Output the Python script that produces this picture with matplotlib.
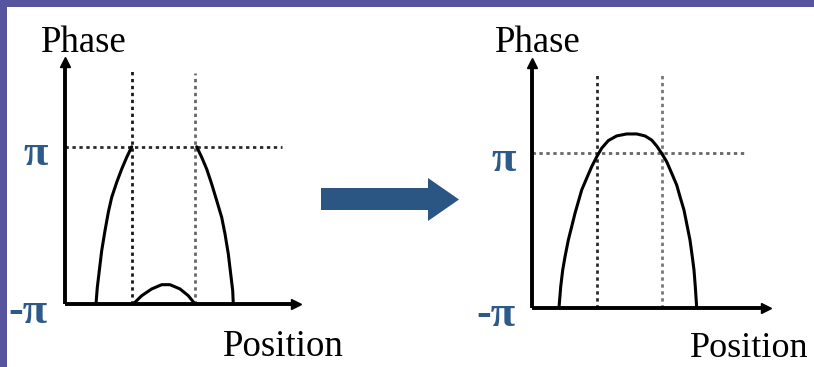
import numpy as np
import matplotlib
matplotlib.use("Agg")
import matplotlib.pyplot as plt
from matplotlib.patches import Rectangle, Polygon

PI = np.pi

# ---------------- data ----------------
# Left panel: wrapped phase, three visible pieces
wrap_rise_pos = [31, 32.3, 34.3, 36.7, 40, 43.3, 46.7, 51.7, 56.7, 61.7, 66.7]
wrap_rise_phase = [-3.14, -2.48, -1.81, -1.01, -0.21, 0.52, 1.12, 1.72, 2.25, 2.72, 3.14]
wrap_bump_pos = [68.3, 76.7, 86.7, 96.7, 105, 115, 123.3, 130]
wrap_bump_phase = [-3.14, -2.81, -2.54, -2.37, -2.37, -2.54, -2.81, -3.14]
wrap_fall_pos = [131.7, 136.7, 141.7, 146.7, 151.7, 156.7, 160, 163.3, 165.7, 167.7, 168.3]
wrap_fall_phase = [3.14, 2.72, 2.25, 1.65, 0.99, 0.32, -0.34, -1.14, -1.94, -2.61, -3.14]
wrap_cross_pos = [67, 130]          # where the phase reaches pi

# Right panel: unwrapped phase
unw_pos = [27, 28.7, 30.7, 33, 36.3, 39.7, 43, 46.3, 49.7, 54.7, 59.7, 64.7, 69.7,
           76.3, 84.7, 94.7, 104.7, 113, 119.7, 124.7, 129.7, 134.7, 139.7, 144.7,
           148, 152, 155.3, 158, 160.3, 162, 163.3, 164.7]
unw_phase = [-3.14, -2.29, -1.61, -1.07, -0.39, 0.16, 0.70, 1.17, 1.65, 2.13, 2.60, 3.00, 3.35,
             3.66, 3.85, 3.93, 3.93, 3.85, 3.68, 3.44, 3.14, 2.80, 2.33, 1.85,
             1.38, 0.83, 0.16, -0.39, -1.07, -1.61, -2.29, -3.14]
unw_cross_pos = [65, 130]

tick_vals = [-PI, PI]
tick_labels = ["-\u03c0", "\u03c0"]

# ---------------- figure ----------------
W, H = 814, 367
fig = plt.figure(figsize=(W / 100, H / 100), dpi=100)
fig.patch.set_facecolor("white")

def fx(px):
    return px / W

def fy(py):
    return 1 - py / H

BLUE = "#2d5a88"
SERIF = ["Liberation Serif", "DejaVu Serif"]


def make_panel(x0, x1, ybase, ytop, px_per_rad):
    ax = fig.add_axes([fx(x0), fy(ybase), (x1 - x0) / W, (ybase - ytop) / H])
    ax.set_xlim(0, x1 - x0)
    ax.set_ylim(-PI, -PI + (ybase - ytop) / px_per_rad)
    ax.patch.set_alpha(0)
    for s in ["top", "right"]:
        ax.spines[s].set_visible(False)
    for s in ["left", "bottom"]:
        ax.spines[s].set_linewidth(2.8)
        ax.spines[s].set_color("black")
        ax.spines[s].set_capstyle("butt")
    ax.set_xticks([])
    ax.set_yticks([])
    # arrow heads
    ax.plot([0], [1], marker="^", color="black", markersize=7,
            transform=ax.transAxes, clip_on=False)
    ax.plot([1], [0], marker=">", color="black", markersize=7,
            transform=ax.transAxes, clip_on=False)
    return ax


dot = (0, (1.2, 1.3))
DLW = 2.0

# ----- left panel -----
axL = make_panel(65, 296, 304, 62, 25.03)
axL.plot([0, 217], [PI, PI], color="#2a2a2a", lw=DLW, linestyle=dot)
axL.plot([wrap_cross_pos[0]] * 2, [-PI, 6.30], color="#1a1a1a", lw=DLW, linestyle=dot)
axL.plot([wrap_cross_pos[1]] * 2, [-PI, 6.10], color="#666666", lw=DLW, linestyle=dot)
for p, v in [(wrap_rise_pos, wrap_rise_phase), (wrap_bump_pos, wrap_bump_phase),
             (wrap_fall_pos, wrap_fall_phase)]:
    axL.plot(p, v, color="black", lw=2.2, solid_capstyle="round", solid_joinstyle="round")

# ----- right panel -----
axR = make_panel(532, 766, 307.7, 63, 24.57)
axR.plot([0, 213], [PI, PI], color="#666666", lw=DLW, linestyle=dot)
axR.plot([unw_cross_pos[0]] * 2, [-PI, 6.41], color="#2a2a2a", lw=DLW, linestyle=dot)
axR.plot([unw_cross_pos[1]] * 2, [-PI, 6.41], color="#777777", lw=DLW, linestyle=dot)
axR.plot(unw_pos, unw_phase, color="black", lw=2.2, solid_capstyle="round", solid_joinstyle="round")

# tick labels (-pi, pi)
for ax, xoff in [(axL, -17), (axR, -16)]:
    for v, lab in zip(tick_vals, tick_labels):
        ax.annotate(lab, xy=(0, v), xycoords=("axes fraction", "data"),
                    xytext=(xoff * 0.72, -13.0 if v > 0 else -13.5), textcoords="offset points",
                    ha="right", va="baseline", color=BLUE, fontsize=32,
                    fontweight="bold", family=SERIF)

# axis titles
fig.text(fx(41), fy(52), "Phase", fontsize=26.5, family=SERIF, ha="left", va="baseline")
fig.text(fx(495), fy(52), "Phase", fontsize=26.5, family=SERIF, ha="left", va="baseline")
fig.text(fx(223), fy(356), "Position", fontsize=26.5, family=SERIF, ha="left", va="baseline")
fig.text(fx(690), fy(357), "Position", fontsize=26, family=SERIF, ha="left", va="baseline")

# overlay for decoration: border and big arrow
ov = fig.add_axes([0, 0, 1, 1], zorder=-1)
ov.set_xlim(0, W)
ov.set_ylim(H, 0)
ov.axis("off")
ov.add_patch(Rectangle((0, 0), W, 7, color="#58559f", lw=0))
ov.add_patch(Rectangle((0, 0), 7, H, color="#58559f", lw=0))
ov.add_patch(Polygon([(321, 188), (428, 188), (428, 178), (459, 199.5), (428, 221),
                      (428, 210), (321, 210)], closed=True, color="#2b5582", lw=0))

fig.savefig("out.png", dpi=100, facecolor="white")
